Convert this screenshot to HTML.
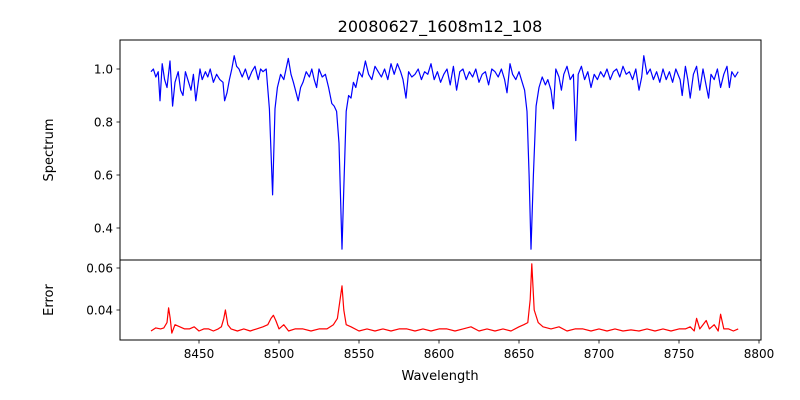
<!DOCTYPE html>
<html><head><meta charset="utf-8"><style>
body{margin:0;background:#fff}
svg{display:block;font-family:"DejaVu Sans","Liberation Sans",sans-serif}
</style></head><body>
<svg id="chart" width="800" height="400" viewBox="0 0 800 400">
<rect width="800" height="400" fill="#fff"/>
<text x="440" y="32" font-size="16" text-anchor="middle">20080627_1608m12_108</text>
<g id="topPanel"></g>
<g id="botPanel"></g>
<text x="440" y="380" font-size="13" text-anchor="middle">Wavelength</text>
<text transform="translate(53,150) rotate(-90)" font-size="13" text-anchor="middle">Spectrum</text>
<text transform="translate(53,300) rotate(-90)" font-size="13" text-anchor="middle">Error</text>
</svg>
<script>
const waves = [8420,8421.5,8423,8424.5,8425.6,8427,8428.5,8430,8431.9,8433.5,8435,8437,8438.5,8440,8441.5,8443,8445,8446.5,8448,8450.6,8452,8454,8455.5,8457,8459,8461,8463,8465,8466,8467.5,8469,8470.5,8472,8473.5,8475,8477,8479,8481,8483,8485,8487,8488.5,8490,8492,8494,8496,8497.5,8499,8501,8503,8505.8,8507.5,8509,8512,8513.5,8515,8517,8519,8520.5,8522,8523.5,8525,8527,8529,8531,8533,8534.5,8536,8537.5,8539.4,8540.5,8542,8543.5,8545,8546.5,8548,8550,8552,8554,8556,8558,8560,8562,8564,8566,8568,8570,8572,8574,8576,8577.5,8579.4,8581,8583,8585,8587,8589,8591,8593,8595,8597,8599,8601,8603,8605,8607,8609,8611,8613,8615,8617,8619,8621,8623,8625,8627,8629,8631,8633,8635,8637,8639,8641,8642.5,8644.4,8646,8648,8650,8652,8653.5,8655,8656.3,8657.5,8659,8660.7,8662.5,8664.5,8666.5,8668,8670,8671.5,8673,8675,8676.5,8678,8680,8682,8684,8685.5,8687,8689,8691,8693,8695,8697,8699,8701,8703,8705,8707,8709,8711,8713,8715,8717,8719,8721,8723,8725,8726.7,8728,8730,8732,8734,8736,8738,8740,8742,8744,8746,8748,8750.7,8752,8754,8755.5,8757,8759,8761,8763,8765,8766.9,8768.5,8770,8772,8774,8776,8778,8780,8781.5,8783,8785,8787];
const flux = [0.99,1.00,0.97,0.99,0.88,1.02,0.96,0.93,1.03,0.86,0.95,0.99,0.92,0.90,0.99,0.96,0.92,0.98,0.88,1.00,0.96,0.99,0.97,1.00,0.95,0.98,0.96,0.95,0.88,0.91,0.96,1.00,1.05,1.01,1.00,0.97,1.00,0.96,0.99,1.01,0.96,1.00,0.99,1.00,0.85,0.525,0.85,0.93,0.98,0.96,1.04,0.98,0.95,0.88,0.93,0.95,0.99,0.97,1.00,0.96,0.93,1.00,0.97,0.98,0.93,0.87,0.86,0.84,0.72,0.32,0.55,0.84,0.90,0.89,0.95,0.93,0.99,0.97,1.03,0.98,0.96,1.01,0.99,0.97,1.00,0.96,1.02,0.98,1.02,0.99,0.96,0.89,0.99,0.97,0.98,1.00,0.96,0.99,0.98,1.02,0.96,0.99,0.95,0.98,1.00,0.94,1.01,0.92,0.99,1.00,0.96,0.99,0.97,1.00,0.95,0.98,0.99,0.94,1.00,0.99,0.97,1.00,0.96,0.91,1.02,0.98,0.96,0.99,0.95,0.92,0.84,0.60,0.32,0.60,0.86,0.93,0.97,0.94,0.96,0.92,0.85,1.00,0.97,0.92,0.98,1.01,0.96,0.98,0.73,
0.98,1.01,0.96,0.99,0.93,0.98,0.96,0.99,0.97,1.00,0.96,0.99,1.00,0.97,1.01,0.98,0.99,0.96,1.00,0.92,0.97,1.05,0.98,1.00,0.96,0.99,0.95,1.00,0.96,0.99,0.95,1.00,0.96,0.90,1.01,0.96,0.89,0.98,1.01,0.92,1.00,0.94,0.89,0.98,0.96,1.00,0.93,0.98,1.01,0.93,0.99,0.97,0.99,0.94];
const errWaves = [8420,8423,8426,8428,8430,8431,8432,8433,8435,8438,8441,8444,8447,8450,8453,8456,8459,8462,8464,8465.5,8466.5,8468,8470,8474,8478,8482,8486,8490,8493,8495,8496.5,8498,8500,8503,8506,8510,8515,8520,8525,8530,8534,8536.5,8538,8539.4,8540.5,8542,8545,8550,8555,8560,8565,8570,8575,8580,8585,8590,8595,8600,8605,8610,8615,8620,8625,8630,8635,8640,8645,8650,8653,8655.5,8657,8658,8659.5,8662,8665,8670,8675,8680,8685,8690,8695,8700,8705,8710,8715,8720,8725,8730,8735,8740,8745,8750,8754,8757,8759.5,8761,8763,8765,8767,8769,8772,8774.5,8776,8778,8781,8784,8787];
const errVals = [0.030,0.0315,0.031,0.0315,0.034,0.041,0.036,0.029,0.033,0.032,0.031,0.031,0.032,0.030,0.031,0.031,0.030,0.031,0.032,0.036,0.040,0.033,0.031,0.030,0.031,0.030,0.031,0.032,0.033,0.036,0.0375,0.035,0.031,0.033,0.030,0.031,0.031,0.030,0.031,0.031,0.033,0.036,0.044,0.0515,0.040,0.033,0.032,0.030,0.031,0.030,0.031,0.030,0.031,0.031,0.030,0.031,0.030,0.031,0.031,0.030,0.031,0.032,0.030,0.031,0.030,0.031,0.030,0.032,0.033,0.034,0.045,0.062,0.040,0.034,0.032,0.031,0.032,0.030,0.031,0.031,0.030,0.031,0.030,0.031,0.030,0.0305,0.030,0.031,0.030,0.031,0.030,0.031,0.031,0.032,0.030,0.036,0.031,0.033,0.035,0.031,0.033,0.030,0.038,0.031,0.031,0.030,0.031];
const xTicks = [8450,8500,8550,8600,8650,8700,8750,8800];
const topTicks = [0.4,0.6,0.8,1.0];
const botTicks = [0.04,0.06];

const NS='http://www.w3.org/2000/svg';
const X0=120,X1=761;
const xs = w => 199+(w-8450)*1.6;
const ysTop = f => 69+(1-f)*265;
const ysBot = e => 268+(0.06-e)*2100;
function mk(tag, attrs, parent){const el=document.createElementNS(NS,tag);for(const k in attrs)el.setAttribute(k,attrs[k]);parent.appendChild(el);return el;}
const topG=document.getElementById('topPanel'), botG=document.getElementById('botPanel');

function panel(g, y0, y1, ticks, ys, fmt, name){
  const frame=mk('rect',{x:X0,y:y0,width:X1-X0,height:y1-y0,fill:'none',stroke:'#000','stroke-width':1},g);
  
  
  ticks.forEach(t=>{
    const y=ys(t);
    const tk=mk('line',{x1:X0-3.5,x2:X0,y1:y,y2:y,stroke:'#000','stroke-width':0.8},g);
    
    
    const lb=mk('text',{x:X0-7,y:y+4.5,'font-size':12,'text-anchor':'end'},g);
    lb.textContent=fmt(t);
    
    
  });
}
panel(topG,40,260,topTicks,ysTop,t=>t.toFixed(1),'spectrum');
panel(botG,260,340,botTicks,ysBot,t=>t.toFixed(2),'error');
xTicks.forEach(t=>{
  const x=xs(t);
  const tk=mk('line',{x1:x,x2:x,y1:340,y2:343.5,stroke:'#000','stroke-width':0.8},botG);
  
  
  const lb=mk('text',{x:x,y:358,'font-size':12,'text-anchor':'middle'},botG);
  lb.textContent=t;
  
  
});
function pts(wa, va, ys){
  const n=Math.min(wa.length, va.length);
  const out=[];
  for(let i=0;i<n;i++) out.push(xs(wa[i]).toFixed(1)+','+ys(va[i]).toFixed(1));
  return out.join(' ');
}
const sp=mk('polyline',{points:pts(waves,flux,ysTop),fill:'none',stroke:'#0000ff','stroke-width':1.2,'stroke-linejoin':'round'},topG);


const er=mk('polyline',{points:pts(errWaves,errVals,ysBot),fill:'none',stroke:'#ff0000','stroke-width':1.2,'stroke-linejoin':'round'},botG);


</script>
</body></html>
